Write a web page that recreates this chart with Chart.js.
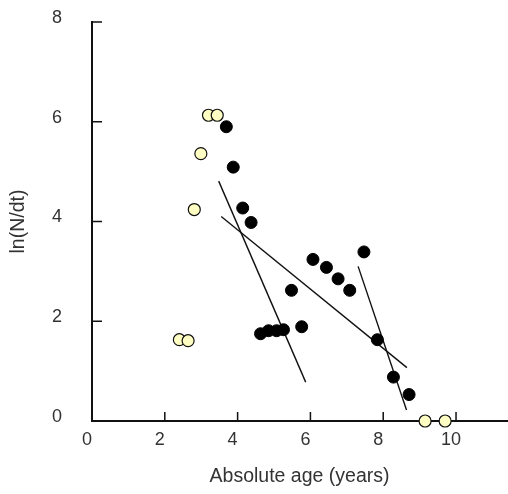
<!DOCTYPE html>
<html>
<head>
<meta charset="utf-8">
<script src="https://cdn.jsdelivr.net/npm/chart.js@4/dist/chart.umd.min.js"></script>
<style>
  html, body { margin: 0; padding: 0; background: #fff; }
  #wrap { width: 508px; height: 494px; }
</style>
</head>
<body>
<div id="wrap"><canvas id="ageChart" width="508" height="494"></canvas></div>
<script>
// open circles (young ages + zero counts)
const openX = [2.40, 2.64, 2.81, 2.99, 3.20, 3.44, 9.15, 9.70];
const openY = [1.63, 1.61, 4.24, 5.36, 6.13, 6.13, 0, 0];

// filled circles used in the fits
const filledX = [3.69, 3.88, 4.14, 4.37, 4.63, 4.85, 5.07, 5.26, 5.48, 5.76, 6.07, 6.44, 6.76, 7.08, 7.47, 7.84, 8.28, 8.71];
const filledY = [5.90, 5.09, 4.27, 3.98, 1.75, 1.81, 1.81, 1.83, 2.62, 1.89, 3.24, 3.08, 2.85, 2.62, 3.39, 1.63, 0.88, 0.53];

// regression line end points
const fit1X = [3.48, 5.87], fit1Y = [4.81, 0.78];
const fit2X = [3.55, 8.65], fit2Y = [4.10, 1.07];
const fit3X = [7.31, 8.64], fit3Y = [3.10, 0.22];

const xTicks = [0, 2, 4, 6, 8, 10];
const yTicks = [0, 2, 4, 6, 8];

const pts = (xs, ys) => xs.map((x, i) => ({ x: x, y: ys[i] }));

const fitLine = (xs, ys) => ({
    type: 'line',
    data: pts(xs, ys),
    borderColor: '#111',
    borderWidth: 1.4,
    pointRadius: 0,
    fill: false,
    clip: false
});

// small tick marks pointing into the plot
const innerTicks = {
    id: 'innerTicks',
    afterDraw(chart) {
        const { ctx, scales: { x, y } } = chart;
        ctx.save();
        ctx.strokeStyle = '#111';
        ctx.lineWidth = 1.5;
        ctx.beginPath();
        xTicks.filter(v => v > 0).forEach(v => {
            const px = x.getPixelForValue(v);
            ctx.moveTo(px, y.bottom);
            ctx.lineTo(px, y.bottom - 9);
        });
        yTicks.filter(v => v > 0).forEach(v => {
            const py = y.getPixelForValue(v);
            ctx.moveTo(x.left, py);
            ctx.lineTo(x.left + 10, py);
        });
        ctx.stroke();
        ctx.restore();
    }
};

const tickFont = { family: '"Liberation Sans", Arial, sans-serif', size: 18 };
const titleFont = { family: '"Liberation Sans", Arial, sans-serif', size: 19.5 };

new Chart(document.getElementById('ageChart'), {
    type: 'scatter',
    data: {
        datasets: [
            {
                data: pts(openX, openY),
                backgroundColor: '#ffffc4',
                borderColor: '#111',
                borderWidth: 1.2,
                pointRadius: 6,
                clip: false
            },
            {
                data: pts(filledX, filledY),
                backgroundColor: '#000',
                borderColor: '#000',
                borderWidth: 1,
                pointRadius: 6,
                clip: false
            },
            fitLine(fit1X, fit1Y),
            fitLine(fit2X, fit2Y),
            fitLine(fit3X, fit3Y)
        ]
    },
    options: {
        responsive: false,
        animation: false,
        layout: { autoPadding: false, padding: { top: 22, right: 1, left: 0, bottom: 0 } },
        plugins: {
            legend: { display: false },
            tooltip: { enabled: false }
        },
        scales: {
            x: {
                type: 'linear',
                min: 0,
                max: 11.4,
                afterFit: s => {
                    s.height = 73;
                    s.paddingLeft = 0;
                    s.paddingRight = 0;
                },
                afterBuildTicks: s => { s.ticks = xTicks.map(v => ({ value: v })); },
                grid: { display: false, drawTicks: false },
                border: { display: true, color: '#111', width: 2 },
                ticks: { font: tickFont, color: '#333', padding: 8, labelOffset: -5, maxRotation: 0 },
                title: {
                    display: true,
                    text: 'Absolute age (years)',
                    font: titleFont,
                    color: '#333',
                    padding: { top: 0, bottom: 6 }
                }
            },
            y: {
                type: 'linear',
                min: 0,
                max: 8,
                afterFit: s => {
                    s.width = 92;
                    s.paddingTop = 0;
                    s.paddingBottom = 0;
                },
                afterBuildTicks: s => { s.ticks = yTicks.map(v => ({ value: v })); },
                grid: { display: false, drawTicks: false },
                border: { display: true, color: '#111', width: 2 },
                ticks: { font: tickFont, color: '#333', padding: 30, labelOffset: -4 },
                title: {
                    display: true,
                    text: 'ln(N/dt)',
                    font: titleFont,
                    color: '#333',
                    padding: { top: 7, bottom: 0 }
                }
            }
        }
    },
    plugins: [innerTicks]
});
</script>
</body>
</html>
